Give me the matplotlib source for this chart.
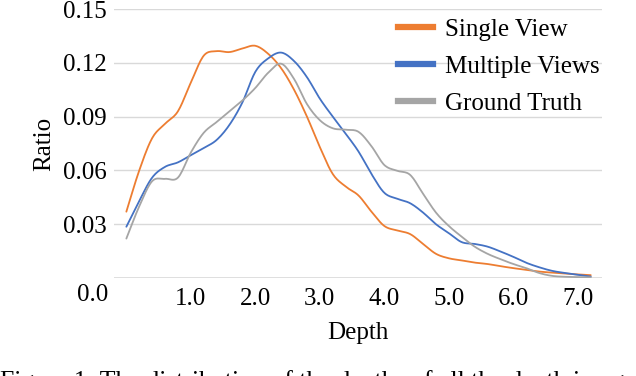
import matplotlib
matplotlib.use('Agg')
import matplotlib.pyplot as plt
import matplotlib.transforms as mtransforms
from matplotlib.lines import Line2D
import numpy as np

depth = [0.0, 0.2, 0.4, 0.6, 0.8, 1.0, 1.2, 1.4, 1.6, 1.8, 2.0, 2.2, 2.4, 2.6, 2.8,
         3.0, 3.2, 3.4, 3.6, 3.8, 4.0, 4.2, 4.4, 4.6, 4.8, 5.0, 5.2, 5.4, 5.6, 5.8,
         6.0, 6.2, 6.4, 6.6, 6.8, 7.0, 7.2]

single_view = [0.037, 0.060, 0.078, 0.086, 0.093, 0.109, 0.124, 0.1265, 0.126, 0.128,
               0.1295, 0.125, 0.117, 0.105, 0.090, 0.073, 0.058, 0.051, 0.046, 0.037,
               0.029, 0.0265, 0.0245, 0.019, 0.0135, 0.011, 0.0098, 0.0086, 0.0078, 0.0066,
               0.0055, 0.0046, 0.0036, 0.003, 0.0025, 0.002, 0.0016]

multiple_views = [0.0286, 0.043, 0.056, 0.062, 0.0645, 0.0685, 0.0725, 0.077, 0.0855, 0.098,
                  0.115, 0.1225, 0.1257, 0.121, 0.112, 0.100, 0.090, 0.0805, 0.0705, 0.058,
                  0.0475, 0.0442, 0.0417, 0.0365, 0.030, 0.025, 0.020, 0.019, 0.0175, 0.0148,
                  0.0118, 0.0085, 0.006, 0.004, 0.0028, 0.0018, 0.0008]

ground_truth = [0.022, 0.040, 0.054, 0.0553, 0.056, 0.070, 0.081, 0.087, 0.093, 0.099,
                0.106, 0.1145, 0.1195, 0.111, 0.097, 0.088, 0.0835, 0.0827, 0.0815, 0.0735,
                0.063, 0.0598, 0.0575, 0.047, 0.0365, 0.029, 0.023, 0.0175, 0.0135, 0.0105,
                0.0078, 0.0055, 0.0028, 0.0012, 0.0007, 0.0005, 0.0004]

labels = ['Single View', 'Multiple Views', 'Ground Truth']
colors = ['#ED7D31', '#4472C4', '#A5A5A5']
xticks = [1, 2, 3, 4, 5, 6, 7]
yticks = [0.03, 0.06, 0.09, 0.12, 0.15]


def smooth(x, y, n=12):
    # catmull-rom through the points, like excel's smoothed line
    x = np.asarray(x, float)
    y = np.asarray(y, float)
    px = np.concatenate([[2 * x[0] - x[1]], x, [2 * x[-1] - x[-2]]])
    py = np.concatenate([[2 * y[0] - y[1]], y, [2 * y[-1] - y[-2]]])
    t = np.linspace(0, 1, n, endpoint=False)[:, None]
    outx, outy = [], []
    for arr, out in ((px, outx), (py, outy)):
        p0, p1, p2, p3 = arr[:-3], arr[1:-2], arr[2:-1], arr[3:]
        seg = 0.5 * (2 * p1 + (-p0 + p2) * t + (2 * p0 - 5 * p1 + 4 * p2 - p3) * t ** 2
                     + (-p0 + 3 * p1 - 3 * p2 + p3) * t ** 3)
        out.extend(seg.T.ravel().tolist())
        out.append(arr[-2])
    return outx, outy


plt.rcParams['font.family'] = 'Liberation Serif'
plt.rcParams['font.size'] = 18

fig = plt.figure(figsize=(6.36, 3.76), dpi=100)
ax = fig.add_axes([0.179, 0.2606, 0.7673, 0.7154])

for ys, c, lab in zip([single_view, multiple_views, ground_truth], colors, labels):
    sx, sy = smooth(depth, ys)
    ax.plot(sx, sy, color=c, lw=1.3, label=lab, solid_capstyle='round')

ax.set_xlim(-0.194, 7.372)
ax.set_ylim(0, 0.15)
ax.set_xticks(xticks)
ax.set_xticklabels(['%.1f' % v for v in xticks])
ax.set_yticks(yticks)
ax.set_yticklabels(['%.2f' % v for v in yticks])
ax.tick_params(length=0)
ax.tick_params(axis='x', pad=7)
ax.tick_params(axis='y', pad=5)
trans = mtransforms.blended_transform_factory(ax.transData, ax.transAxes)
ax.text(-0.53, -0.063, '0.0', transform=trans, ha='center', va='center', clip_on=False)

for y in yticks:
    ax.axhline(y, color='#D9D9D9', lw=1, zorder=0)
ax.axhline(0, color='#D9D9D9', lw=1.2, zorder=0)
for s in ax.spines.values():
    s.set_visible(False)

ax.set_xlabel('Depth', labelpad=9)
ax.set_ylabel('Ratio', labelpad=6)

handles = [Line2D([], [], color=c, lw=4.5) for c in colors]
fig.legend(handles, labels, loc='upper left', bbox_to_anchor=(0.606, 0.985),
           frameon=False, borderpad=0, handlelength=1.4, handletextpad=0.5,
           labelspacing=0.58)

fig.text(0.0, 0.016, 'Figure 1: The distribution of the depths of all the depth images of the',
         ha='left', va='top', fontsize=18.5)

fig.savefig('out.png', dpi=100)
